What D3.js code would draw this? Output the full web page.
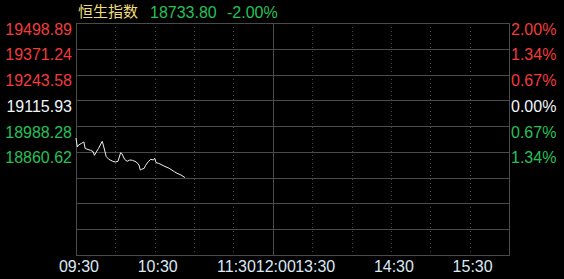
<!DOCTYPE html>
<html>
<head>
<meta charset="utf-8">
<script src="https://cdn.jsdelivr.net/npm/d3@7"></script>
<style>
  html, body { margin: 0; padding: 0; background: #000; }
  svg { display: block; }
  text { font-family: "Liberation Sans", Arial, "Noto Sans CJK SC", sans-serif; }
</style>
</head>
<body>
<div id="chart"></div>
<script>
// header
var indexName = "恒生指数";
var lastPrice = "18733.80";
var lastChange = "-2.00%";

// y axis: previous close and the labelled levels
var prevClose = 19115.93;
var priceStep = 127.653;
var priceLabels = ["19498.89", "19371.24", "19243.58", "19115.93", "18988.28", "18860.62"];
var pctLabels = ["2.00%", "1.34%", "0.67%", "0.00%", "0.67%", "1.34%"];

// x axis: trading minutes from 09:30 (lunch break removed)
var timeLabels = ["09:30", "10:30", "11:30", "12:00", "13:30", "14:30", "15:30"];
var timeTicks = [0, 60, 120, 150, 180, 240, 300];
var sessionMinutes = 330;

// intraday series (minute since open, price)
var minutes = [0, 1, 2, 4, 6, 7, 11, 13, 14, 17, 20, 21, 23, 25, 28, 30, 32, 34, 35, 37, 39, 41, 43, 46, 48, 49, 50, 52, 53, 55, 57, 59, 60, 61, 63, 67, 71, 75, 77, 80, 83];
var prices = [18929.4, 18884.9, 18894.8, 18902.2, 18909.6, 18877.4, 18868.5, 18862.6, 18843.7, 18876.4,
              18913.1, 18889.8, 18837.8, 18823.9, 18814.0, 18810.6, 18814.0, 18856.6, 18851.7, 18823.9,
              18814.0, 18820.5, 18819.0, 18810.6, 18795.7, 18771.0, 18774.4, 18779.4, 18793.2, 18812.1,
              18823.9, 18820.5, 18828.9, 18807.1, 18804.1, 18790.8, 18779.4, 18762.5, 18754.6, 18746.2, 18733.8];

const chartWidth = 564, chartHeight = 279;
const plotLeft = 76, plotRight = 509, plotTop = 23, plotBottom = 255;

const red = "#f23c3c", green = "#25c05a", gridColor = "#4b4b4b";

var svg = d3.select("#chart").append("svg")
  .attr("width", chartWidth)
  .attr("height", chartHeight);

var x = d3.scaleLinear().domain([0, sessionMinutes]).range([plotLeft, plotRight]);
var y = d3.scaleLinear()
  .domain([prevClose - 6 * priceStep, prevClose + 3 * priceStep])
  .range([plotBottom, plotTop]);

// horizontal grid
var levels = d3.range(3, -7, -1).map(function(k) { return prevClose + k * priceStep; });
svg.append("g").selectAll("line")
  .data(levels)
  .enter().append("line")
  .attr("x1", plotLeft).attr("x2", plotRight)
  .attr("y1", function(d) { return Math.round(y(d)) + 0.5; })
  .attr("y2", function(d) { return Math.round(y(d)) + 0.5; })
  .attr("stroke", gridColor);

// vertical grid, every half hour
var halfHours = d3.range(30, sessionMinutes, 30);
svg.append("g").selectAll("line")
  .data(halfHours)
  .enter().append("line")
  .attr("x1", function(d) { return Math.round(x(d)) + 0.5; })
  .attr("x2", function(d) { return Math.round(x(d)) + 0.5; })
  .attr("y1", plotTop).attr("y2", plotBottom)
  .attr("stroke", function(d) { return d == 150 ? gridColor : "#444"; })
  .attr("stroke-dasharray", function(d) { return d == 150 ? null : "1,3"; });

// frame
svg.append("rect")
  .attr("x", plotLeft + 0.5).attr("y", plotTop + 0.5)
  .attr("width", plotRight - plotLeft).attr("height", plotBottom - plotTop)
  .attr("fill", "none")
  .attr("stroke", gridColor);

// price labels on the left
svg.append("g").selectAll("text")
  .data(priceLabels)
  .enter().append("text")
  .attr("x", 72)
  .attr("y", function(d, i) { return y(levels[i]) + 11.5; })
  .attr("text-anchor", "end")
  .attr("font-size", "16px")
  .attr("fill", function(d, i) { return i < 3 ? red : (i == 3 ? "#f2f6fa" : green); })
  .text(function(d) { return d; });

// percent labels on the right
svg.append("g").selectAll("text")
  .data(pctLabels)
  .enter().append("text")
  .attr("x", 511)
  .attr("y", function(d, i) { return y(levels[i]) + 11.5; })
  .attr("font-size", "16px")
  .attr("fill", function(d, i) { return i < 3 ? red : (i == 3 ? "#f2f6fa" : green); })
  .text(function(d) { return d; });

// time labels
svg.append("g").selectAll("text")
  .data(timeLabels)
  .enter().append("text")
  .attr("x", function(d, i) { return x(timeTicks[i]) + 3; })
  .attr("y", 272)
  .attr("text-anchor", "middle")
  .attr("font-size", "16px")
  .attr("fill", "#dce8f4")
  .text(function(d) { return d; });

// header
svg.append("text")
  .attr("x", 78).attr("y", 17)
  .attr("font-size", "15px")
  .attr("fill", "#f0dc78")
  .style("font-family", "'Noto Sans CJK SC', sans-serif")
  .text(indexName);
svg.append("text")
  .attr("x", 150).attr("y", 18)
  .attr("font-size", "16px")
  .attr("fill", green)
  .text(lastPrice);
svg.append("text")
  .attr("x", 227).attr("y", 18)
  .attr("font-size", "16px")
  .attr("fill", green)
  .text(lastChange);

// price line
var line = d3.line()
  .x(function(d, i) { return x(minutes[i]); })
  .y(function(d) { return y(d); });

svg.append("path")
  .datum(prices)
  .attr("d", line)
  .attr("fill", "none")
  .attr("stroke", "#f0f0f0")
  .attr("stroke-width", 1);
</script>
</body>
</html>
